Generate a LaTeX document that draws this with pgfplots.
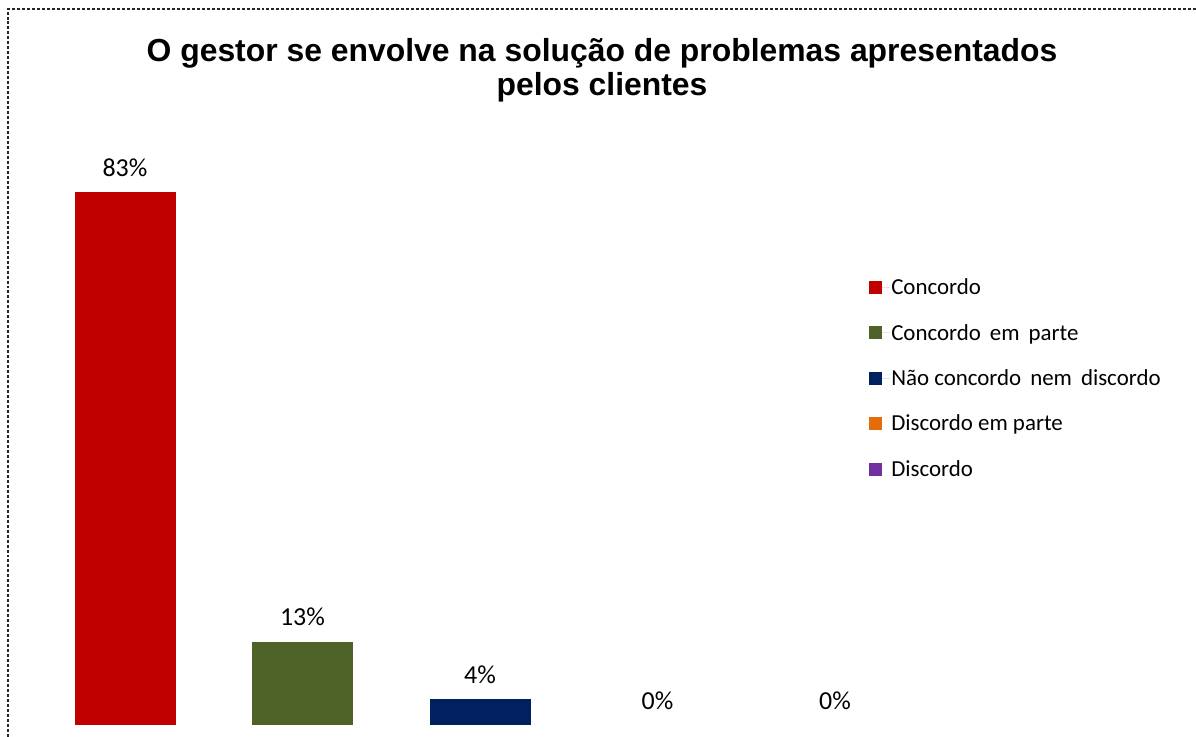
\documentclass[border=0pt]{standalone}
\usepackage{pgfplots}
\pgfplotsset{compat=1.18}
\usepackage{fontspec}
\setmainfont{Carlito}
\newfontfamily\titlefont{Liberation Sans}

\definecolor{cRed}{RGB}{192,0,0}
\definecolor{cGreen}{RGB}{79,98,40}
\definecolor{cNavy}{RGB}{0,32,96}
\definecolor{cOrange}{RGB}{228,108,10}
\definecolor{cPurple}{RGB}{112,48,160}

\pgfplotsset{
  sq/.style={fill=#1, draw=none, bar shift=0pt,
    legend image code/.code={\fill[#1] (0bp,-6.5bp) rectangle (13bp,6.5bp);
      \path (0bp,0bp) -- (21bp,0bp);}},
}

\begin{document}
\begin{tikzpicture}
\path[use as bounding box] (0bp,0bp) rectangle (1196bp,-737bp);
\draw[densely dashed, line width=1.2bp, black!85] (1196bp,-9bp) -- (8bp,-9bp) -- (8bp,-737bp);

\node[font=\titlefont\bfseries\fontsize{32}{38}\selectfont, anchor=base, inner sep=0]
  at (602bp,-61bp) {O gestor se envolve na solução de problemas apresentados};
\node[font=\titlefont\bfseries\fontsize{32}{38}\selectfont, anchor=base, inner sep=0]
  at (602bp,-95bp) {pelos clientes};

\begin{axis}[
    at={(36.25bp,-725bp)}, anchor=south west,
    scale only axis,
    width=887.5bp, height=642bp,
    xmin=-0.5, xmax=4.5,
    ymin=0, ymax=100,
    hide axis,
    clip=false,
    ybar,
    bar width=101bp,
    /pgf/number format/assume math mode=true,
    nodes near coords={\pgfmathprintnumber{\pgfplotspointmeta}\%},
    every node near coord/.append style={font=\fontsize{26}{30}\selectfont,
      anchor=base, inner sep=0, yshift=16bp, text=black},
    legend style={at={(0.935,0.700)}, anchor=north west, draw=none,
      font=\fontsize{23}{27}\selectfont, row sep=26bp,
      nodes={inner sep=1bp}},
    legend cell align=left,
]
\addplot[sq=cRed] coordinates {(0,83)};
\addlegendentry{Concordo}
\addplot[sq=cGreen] coordinates {(1,13)};
\addlegendentry{Concordo\, em\, parte}
\addplot[sq=cNavy] coordinates {(2,4)};
\addlegendentry{Não concordo\, nem\, discordo}
\addplot[sq=cOrange, fill=none] coordinates {(3,0)};
\addlegendentry{Discordo em parte}
\addplot[sq=cPurple, fill=none] coordinates {(4,0)};
\addlegendentry{Discordo}
\end{axis}
\end{tikzpicture}
\end{document}
